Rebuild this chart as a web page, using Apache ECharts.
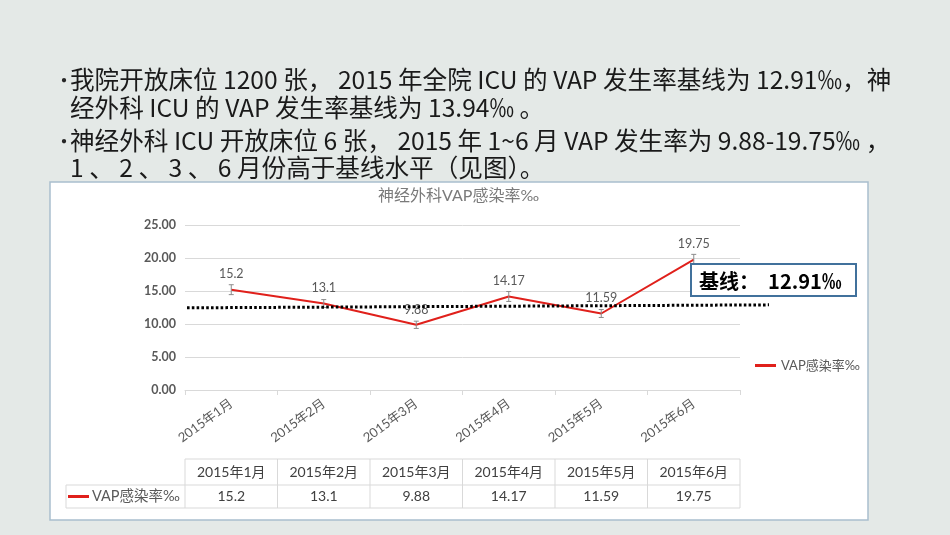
<!DOCTYPE html>
<html>
<head>
<meta charset="utf-8">
<script src="https://cdn.jsdelivr.net/npm/echarts@6/dist/echarts.min.js"></script>
<style>
html, body { margin: 0; padding: 0; background: #e4e9e7; }
#main { width: 950px; height: 535px; }
</style>
</head>
<body>
<div id="main"></div>
<script>
// 神经外科 VAP 感染率 折线图 + 数据表
var months = ['2015年1月', '2015年2月', '2015年3月', '2015年4月', '2015年5月', '2015年6月'];
var vapRate = [15.2, 13.1, 9.88, 14.17, 11.59, 19.75];
var errorBars = [0.75, 0.6, 0.55, 0.75, 0.6, 0.8];
var seriesName = 'VAP感染率‰';
var baselineEnds = [12.45, 12.9];   // 手画的基线两端
var baselineText = '基线：  12.91‰';
var bulletLines = [
    '我院开放床位 1200 张， 2015 年全院 ICU 的 VAP 发生率基线为 12.91‰，神',
    '经外科 ICU 的 VAP 发生率基线为 13.94‰ 。',
    '神经外科 ICU 开放床位 6 张， 2015 年 1~6 月 VAP 发生率为 9.88-19.75‰ ，',
    '1 、 2 、 3 、 6 月份高于基线水平（见图）。'
];

var cjk = '"Noto Sans CJK SC", sans-serif';
var num = 'Lato, "Noto Sans CJK SC", sans-serif';
var gridLeft = 185, gridRight = 740, gridTop = 225, gridBottom = 390;

// 基于准备好的dom，初始化echarts实例
var myChart = echarts.init(document.getElementById('main'));

var option = {
    backgroundColor: '#e4e9e7',
    animation: false,
    title: {
        text: '神经外科VAP感染率‰',
        left: 373,
        top: 183,
        textStyle: { fontFamily: num, fontSize: 16, fontWeight: 'normal', color: '#7a7a7a' }
    },
    legend: {
        data: [seriesName],
        left: 750,
        top: 354,
        icon: 'rect',
        itemWidth: 21,
        itemHeight: 3,
        itemGap: 4,
        textStyle: { fontFamily: num, fontSize: 13, color: '#595959' }
    },
    grid: {
        left: gridLeft,
        right: 950 - gridRight,
        top: gridTop,
        bottom: 535 - gridBottom
    },
    xAxis: {
        type: 'category',
        data: months,
        axisLine: { lineStyle: { color: '#d9d9d9' } },
        axisTick: { show: true, length: 5, lineStyle: { color: '#d9d9d9' } },
        axisLabel: {
            rotate: 36,
            margin: 12,
            fontFamily: num,
            fontSize: 13,
            color: '#595959'
        }
    },
    yAxis: {
        type: 'value',
        min: 0,
        max: 25,
        interval: 5,
        axisLine: { show: false },
        axisTick: { show: false },
        splitLine: { lineStyle: { color: '#d9d9d9' } },
        axisLabel: {
            margin: 9,
            fontFamily: num,
            fontSize: 12.5,
            fontWeight: 'bold',
            color: '#595959',
            formatter: function (v) { return v.toFixed(2); }
        }
    },
    series: [
        {
            name: 'err',
            type: 'custom',
            z: 3,
            renderItem: function (params, api) {
                var hi = api.coord([api.value(0), api.value(1) + api.value(2)]);
                var lo = api.coord([api.value(0), api.value(1) - api.value(2)]);
                var w = 2.5;
                var st = { stroke: '#8c8c8c', lineWidth: 1 };
                return {
                    type: 'group',
                    children: [
                        { type: 'line', shape: { x1: hi[0], y1: hi[1], x2: lo[0], y2: lo[1] }, style: st },
                        { type: 'line', shape: { x1: hi[0] - w, y1: hi[1], x2: hi[0] + w, y2: hi[1] }, style: st },
                        { type: 'line', shape: { x1: lo[0] - w, y1: lo[1], x2: lo[0] + w, y2: lo[1] }, style: st }
                    ]
                };
            },
            data: vapRate.map(function (v, i) { return [i, v, errorBars[i]]; })
        },
        {
            name: seriesName,
            type: 'line',
            z: 2,
            showSymbol: true,
            symbol: 'circle',
            symbolSize: 0.1,
            color: '#e0201b',
            lineStyle: { width: 2, color: '#e0201b' },
            label: {
                show: true,
                position: 'top',
                distance: 9,
                fontFamily: num,
                fontSize: 12.5,
                color: '#595959'
            },
            data: vapRate
        }
    ]
};

// 使用刚指定的配置项和数据显示图表。
myChart.setOption(option);

// 白色图表框、要点文字、基线、表格
var g = [];
g.push({
    type: 'rect', z: -10,
    shape: { x: 50, y: 182, width: 818, height: 338 },
    style: { fill: '#ffffff', stroke: '#a9bfce', lineWidth: 1.5 }
});

var lineY = [80, 108, 141, 168];
bulletLines.forEach(function (t, i) {
    if (i === 0 || i === 2) {
        g.push({ type: 'text', style: { text: '•', x: 54, y: lineY[i], font: '20px ' + cjk, fill: '#262626', verticalAlign: 'middle' } });
    }
    g.push({ type: 'text', style: { text: t, x: 70, y: lineY[i], font: '24.6px ' + cjk, fill: '#1a1a1a', verticalAlign: 'middle' } });
});

// 基线虚线
var pL = myChart.convertToPixel({ yAxisIndex: 0 }, baselineEnds[0]);
var pR = myChart.convertToPixel({ yAxisIndex: 0 }, baselineEnds[1]);
g.push({
    type: 'line', z: 10,
    shape: { x1: 187, y1: pL, x2: 769, y2: pR },
    style: { stroke: '#000000', lineWidth: 3, lineDash: [2.6, 2.2] }
});
g.push({
    type: 'rect', z: 20,
    shape: { x: 691, y: 264, width: 165, height: 32 },
    style: { fill: '#ffffff', stroke: '#41719c', lineWidth: 2 }
});
g.push({
    type: 'text', z: 21,
    style: { text: baselineText, x: 699, y: 281, font: 'bold 20px ' + cjk, fill: '#000000', verticalAlign: 'middle' }
});

// 数据表
var colW = (gridRight - gridLeft) / months.length;
var tTop = 459, tMid = 485, tBot = 508, tLeft = 66;
var tl = { stroke: '#d9d9d9', lineWidth: 1 };
g.push({ type: 'line', shape: { x1: gridLeft, y1: tTop, x2: gridRight, y2: tTop }, style: tl });
g.push({ type: 'line', shape: { x1: tLeft, y1: tMid, x2: gridRight, y2: tMid }, style: tl });
g.push({ type: 'line', shape: { x1: tLeft, y1: tBot, x2: gridRight, y2: tBot }, style: tl });
g.push({ type: 'line', shape: { x1: tLeft, y1: tMid, x2: tLeft, y2: tBot }, style: tl });
for (var c = 0; c <= months.length; c++) {
    var cx = gridLeft + c * colW;
    g.push({ type: 'line', shape: { x1: cx, y1: tTop, x2: cx, y2: tBot }, style: tl });
}
months.forEach(function (m, i) {
    var cx = gridLeft + (i + 0.5) * colW;
    g.push({ type: 'text', style: { text: m, x: cx, y: (tTop + tMid) / 2, font: '14px ' + num, fill: '#404040', align: 'center', verticalAlign: 'middle' } });
    g.push({ type: 'text', style: { text: String(vapRate[i]), x: cx, y: (tMid + tBot) / 2, font: '14px ' + num, fill: '#404040', align: 'center', verticalAlign: 'middle' } });
});
g.push({ type: 'rect', shape: { x: 68, y: (tMid + tBot) / 2 - 1.5, width: 21, height: 3 }, style: { fill: '#e0201b' } });
g.push({ type: 'text', style: { text: seriesName, x: 92, y: (tMid + tBot) / 2, font: '14.5px ' + num, fill: '#595959', verticalAlign: 'middle' } });

myChart.setOption({ graphic: g });
</script>
</body>
</html>
